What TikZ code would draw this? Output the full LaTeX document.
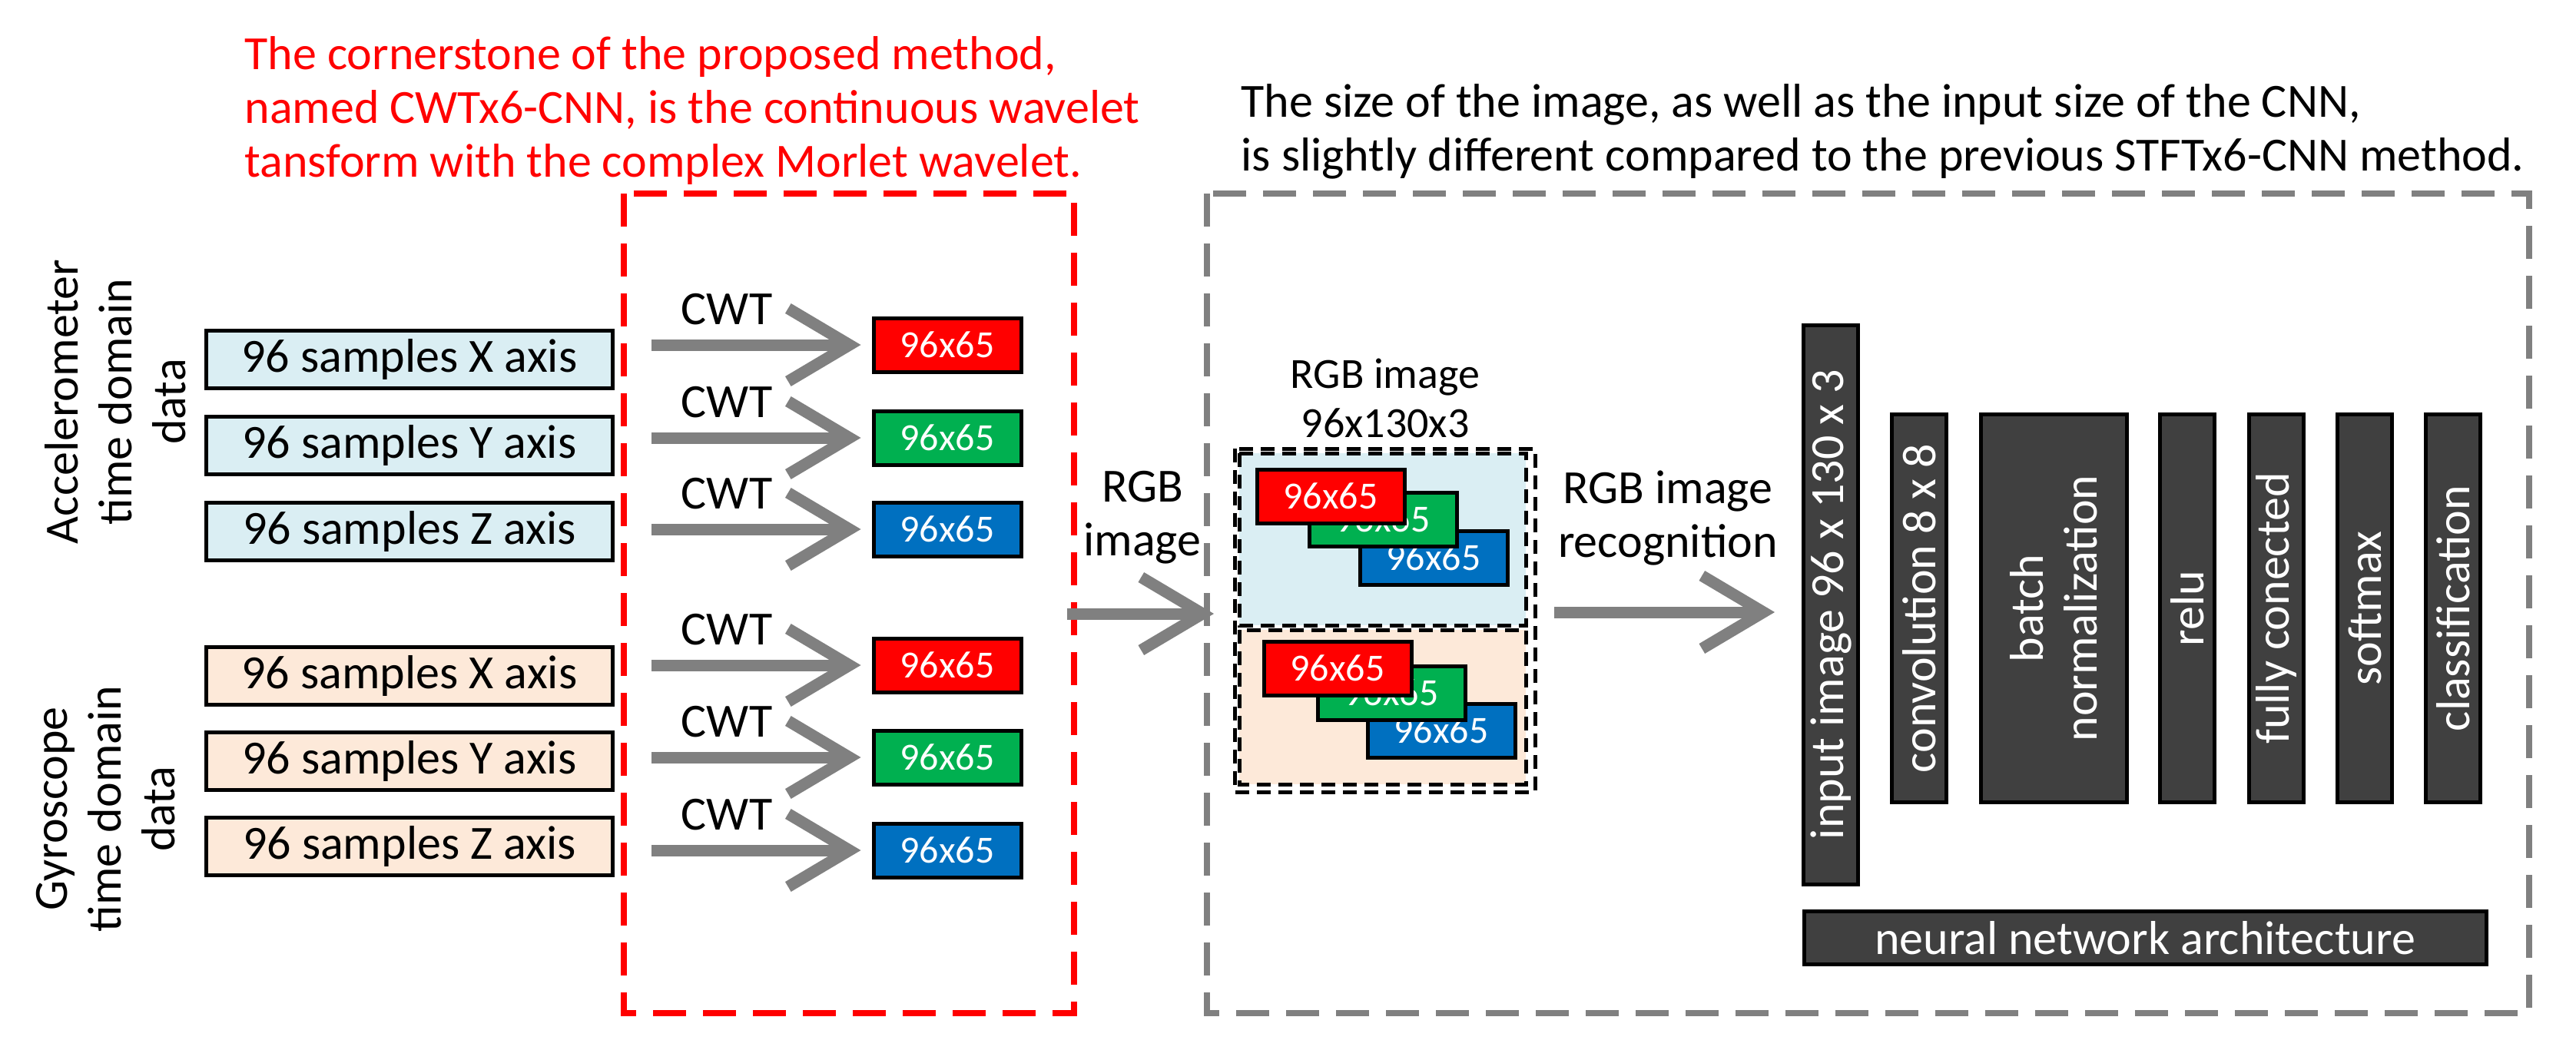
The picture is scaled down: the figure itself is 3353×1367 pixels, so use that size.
\documentclass[tikz,border=0pt]{standalone}
\usepackage{fontspec}
\setmainfont{Carlito}
\usetikzlibrary{arrows.meta}
\definecolor{lblue}{HTML}{DAEEF3}
\definecolor{lpeach}{HTML}{FDE9D9}
\definecolor{cred}{HTML}{FF0000}
\definecolor{cgreen}{HTML}{00B050}
\definecolor{cblue}{HTML}{0070C0}
\definecolor{dgray}{HTML}{404040}
\definecolor{mgray}{HTML}{808080}
\begin{document}
\begin{tikzpicture}[x=1pt,y=-1pt,
  big/.style={font=\fontsize{62}{70}\selectfont},
  sbox/.style={draw=black,line width=5pt,minimum width=529pt,minimum height=75pt,inner sep=0pt,big},
  cbox/.style={draw=black,line width=5pt,minimum width=192pt,minimum height=70pt,inner sep=0pt,text=white,font=\fontsize{50}{60}\selectfont},
  layer/.style={draw=black,line width=5pt,fill=dgray,text=white,inner sep=0pt,big},
  garrow/.style={draw=mgray,line width=15pt,-{Straight Barb[length=80pt,width=95pt]}},
  lbl/.style={big,align=center}]
\useasboundingbox (0,0) rectangle (3353,1367);
% titles
\node[big,text=cred,align=left,anchor=north west] (t1) at (315,44) {The cornerstone of the proposed method,\\named CWTx6-CNN, is the continuous wavelet\\tansform with the complex Morlet wavelet.};
\node[big,align=left,anchor=north west] (t2) at (1612,106) {The size of the image, as well as the input size of the CNN,\\is slightly different compared to the previous STFTx6-CNN method.};
% frames
\draw[cred,line width=8pt,dash pattern=on 43pt off 22pt] (812,252) rectangle (1398,1319);
\draw[mgray,line width=8pt,dash pattern=on 43pt off 22pt] (1571,252) rectangle (3292,1319);
% side labels
\node[lbl,rotate=90] (acc) at (150,523) {Accelerometer\\time domain\\data};
\node[lbl,rotate=90] (gyr) at (138,1053) {Gyroscope\\time domain\\data};
% sample boxes
\node[sbox,fill=lblue] (ax) at (533,468) {96 samples X axis};
\node[sbox,fill=lblue] (ay) at (533,580) {96 samples Y axis};
\node[sbox,fill=lblue] (az) at (533,692) {96 samples Z axis};
\node[sbox,fill=lpeach] (gx) at (533,880) {96 samples X axis};
\node[sbox,fill=lpeach] (gy) at (533,991) {96 samples Y axis};
\node[sbox,fill=lpeach] (gz) at (533,1102) {96 samples Z axis};
% cwt outputs
\node[cbox,fill=cred] (cax) at (1233,449) {96x65};
\node[cbox,fill=cgreen] (cay) at (1233,570) {96x65};
\node[cbox,fill=cblue] (caz) at (1233,689) {96x65};
\node[cbox,fill=cred] (cgx) at (1233,866) {96x65};
\node[cbox,fill=cgreen] (cgy) at (1233,986) {96x65};
\node[cbox,fill=cblue] (cgz) at (1233,1107) {96x65};
\foreach \a/\b in {ax/cax,ay/cay,az/caz,gx/cgx,gy/cgy,gz/cgz}{
  \coordinate (s\b) at ([xshift=48pt]\a.east |- \b.west);
  \draw[garrow] (s\b) -- ([xshift=-14pt]\b.west);
  \node[big] at ([xshift=98pt,yshift=46pt]s\b) {CWT};
}
% RGB composite
\fill[lblue] (1613,590) rectangle (1986,814);
\fill[lpeach] (1613,820) rectangle (1986,1021);
\draw[black,line width=5pt,dash pattern=on 18pt off 10pt] (1607,584) rectangle (1998,1031);
\draw[black,line width=5pt,dash pattern=on 18pt off 10pt] (1613,590) rectangle (1986,814);
\draw[black,line width=5pt,dash pattern=on 18pt off 10pt] (1613,820) rectangle (1986,1021);
\tikzset{rbox/.style={draw=black,line width=5pt,minimum width=192pt,minimum height=70pt,inner sep=0pt,text=white,font=\fontsize{50}{60}\selectfont}}
\node[rbox,fill=cblue] (ub) at (1866,726) {96x65};
\node[rbox,fill=cgreen] (ug) at (1800,676) {96x65};
\node[rbox,fill=cred] (ur) at (1732,646) {96x65};
\node[rbox,fill=cblue] (lb) at (1876,951) {96x65};
\node[rbox,fill=cgreen] (lg) at (1811,902) {96x65};
\node[rbox,fill=cred] (lr) at (1741,870) {96x65};
\node[lbl,font=\fontsize{56}{64}\selectfont] (rgbt) at (1803,518) {RGB image\\96x130x3};
% arrows between stages
\coordinate (a1s) at (1389,799);
\coordinate (a1e) at (1580,799);
\draw[garrow] (a1s) -- (a1e);
\node[lbl] (rgbl) at (1487,674) {RGB\\image};
\coordinate (a2s) at (2023,797);
\coordinate (a2e) at (2310,797);
\draw[garrow] (a2s) -- (a2e);
\node[lbl] (recl) at (2171,674) {RGB image\\recognition};
% network layers
\node[layer,minimum width=71pt,minimum height=728pt] (inp) at (2383,787) {};
\node[rotate=90,text=white,big] at (inp.center) {input image 96 x 130 x 3};
\node[layer,minimum width=71pt,minimum height=505pt] (conv) at (2498,792) {};
\node[rotate=90,text=white,big] at (conv.center) {convolution 8 x 8};
\node[layer,minimum width=190pt,minimum height=505pt] (bn) at (2673,792) {};
\node[rotate=90,text=white,big,align=center] at (bn.center) {batch\\normalization};
\node[layer,minimum width=71pt,minimum height=505pt] (relu) at (2847,792) {};
\node[rotate=90,text=white,big] at (relu.center) {relu};
\node[layer,minimum width=71pt,minimum height=505pt] (fc) at (2963,792) {};
\node[rotate=90,text=white,big] at (fc.center) {fully conected};
\node[layer,minimum width=71pt,minimum height=505pt] (sm) at (3078,792) {};
\node[rotate=90,text=white,big] at (sm.center) {softmax};
\node[layer,minimum width=71pt,minimum height=505pt] (cl) at (3193,792) {};
\node[rotate=90,text=white,big] at (cl.center) {classification};
\node[layer,minimum width=888pt,minimum height=69pt] (nn) at (2792,1221) {neural network architecture};
\end{tikzpicture}
\end{document}
